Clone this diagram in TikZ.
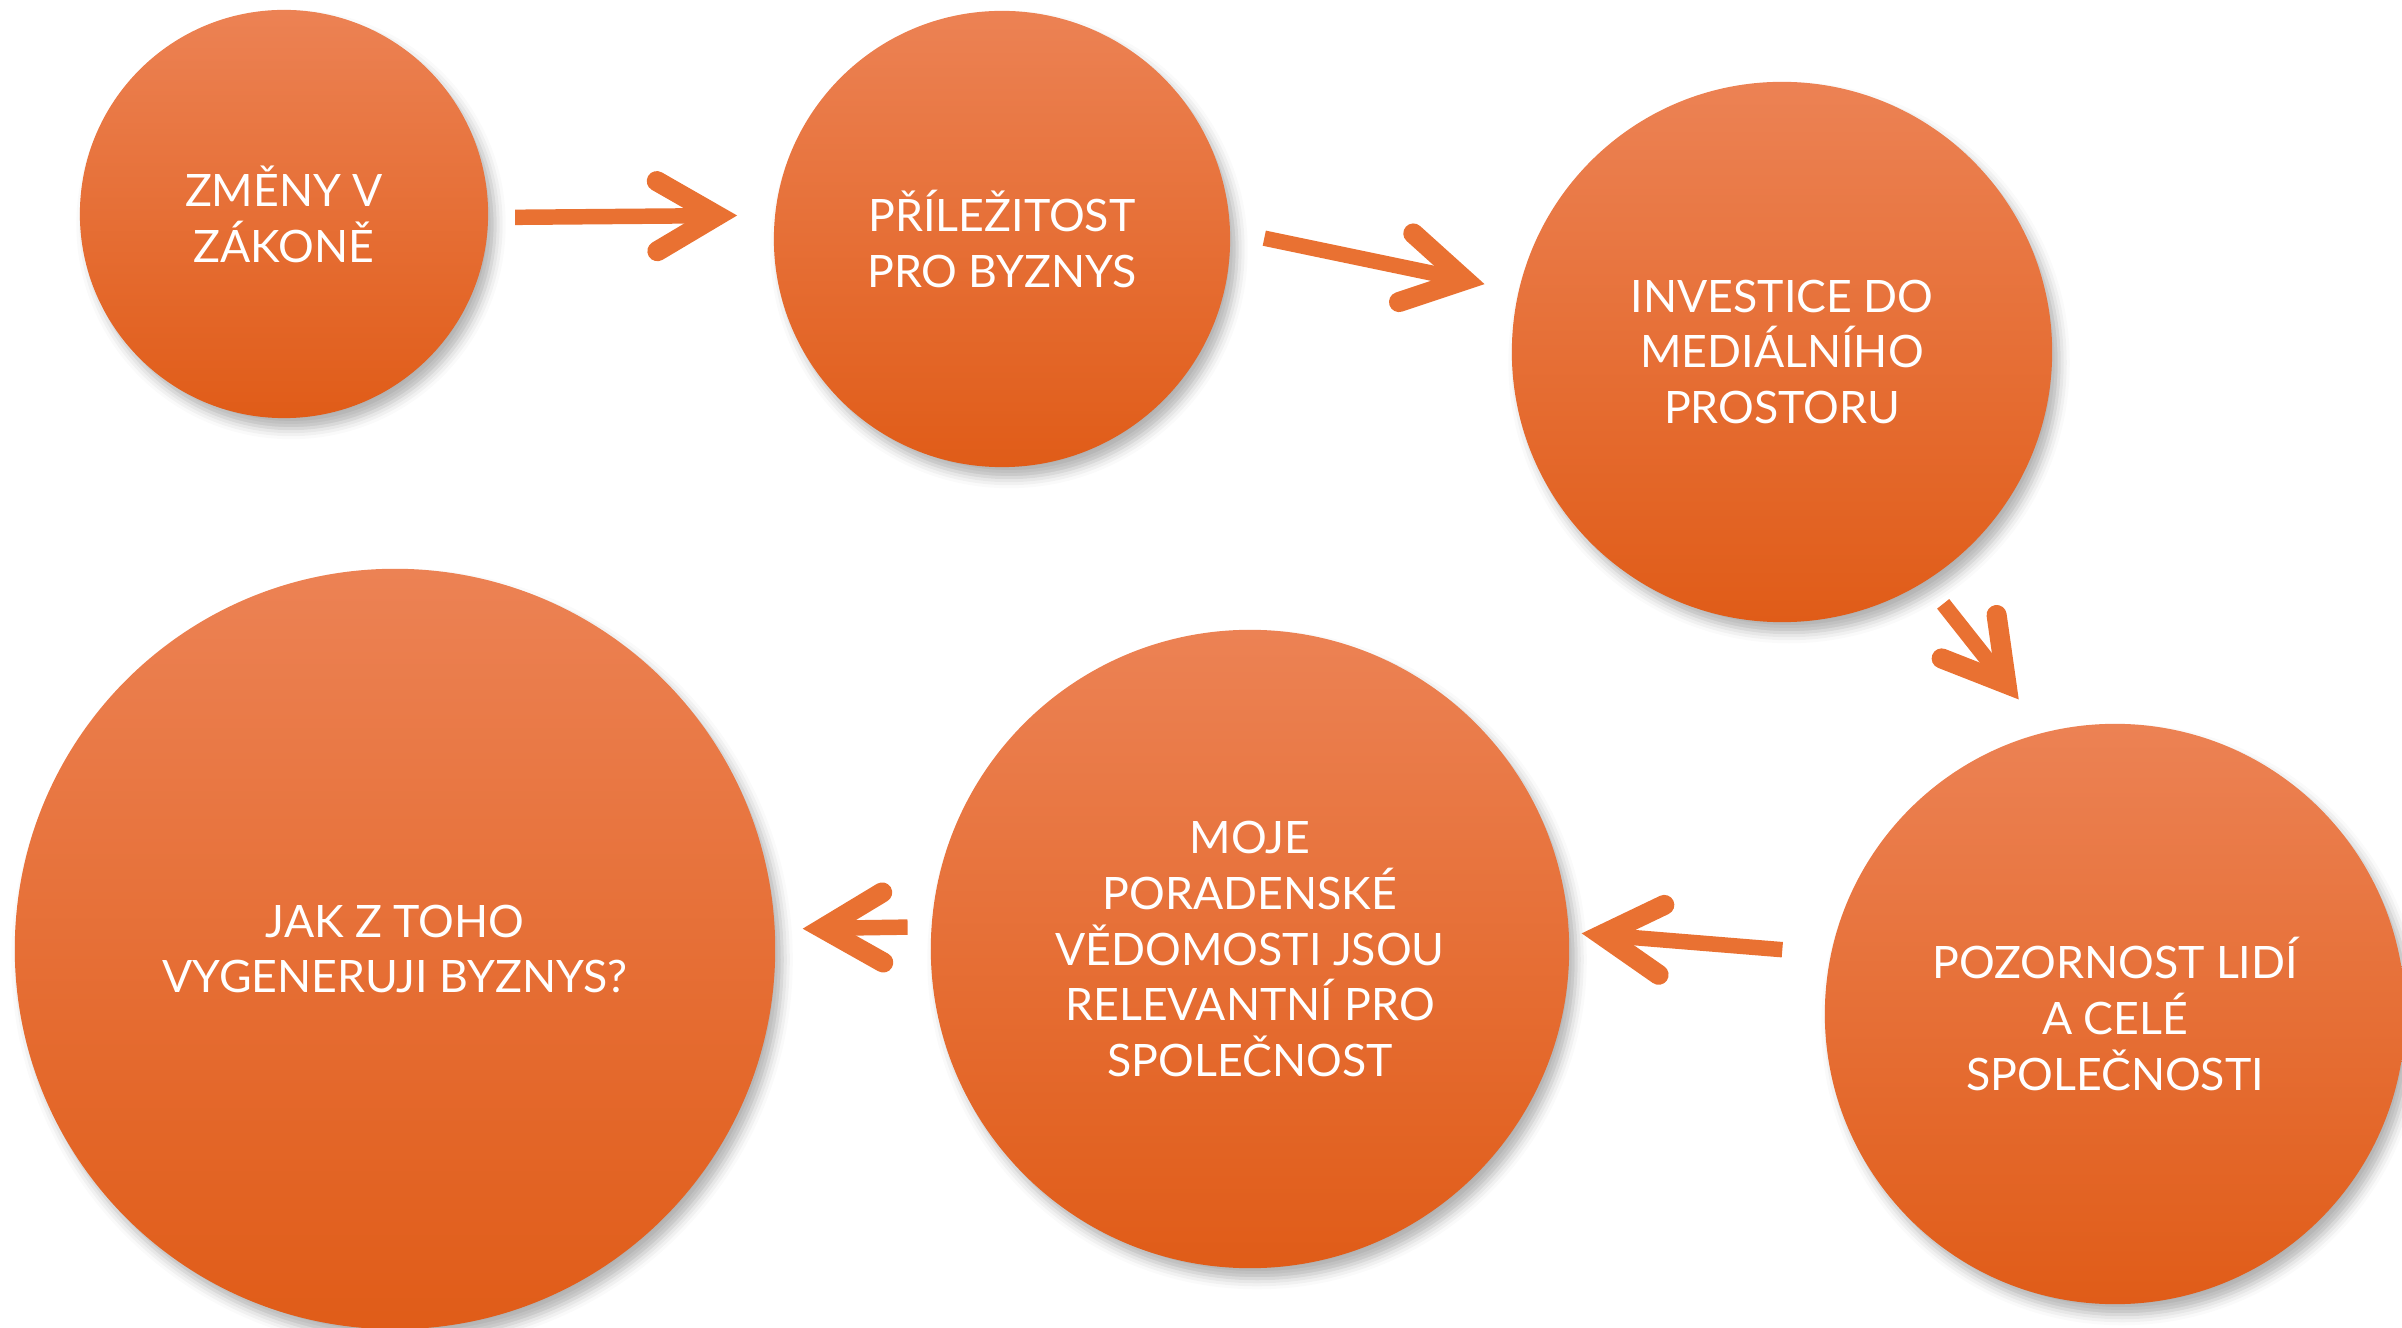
\documentclass[tikz,border=0pt]{standalone}
\usepackage{fontspec}
\setmainfont{Lato}
\usetikzlibrary{arrows.meta,shadows.blur}

\definecolor{bubtop}{HTML}{EC8254}
\definecolor{bubmid}{HTML}{F4702A}
\definecolor{bubbot}{HTML}{E05C18}
\definecolor{arrowor}{HTML}{E97132}

\tikzset{
  bubble/.style={circle,inner sep=0pt,outer sep=0pt,
    top color=bubtop,middle color=bubmid,bottom color=bubbot,
    text=white,align=center,font=\fontsize{12.7}{15.9}\selectfont,
    blur shadow={shadow xshift=2pt,shadow yshift=-3pt,shadow blur radius=3pt,shadow opacity=30}},
  flow/.style 2 args={draw=arrowor,line width=4.4pt,
    shorten <=#1,shorten >=#2,
    -{Straight Barb[length=6mm,width=7mm,line width=0pt 1.3,line cap=round,line join=miter]}}
}

\begin{document}
\begin{tikzpicture}[x=0.01cm,y=-0.01cm]
\clip (0,0) rectangle (2402,1328);

% the six steps
\node[bubble,minimum size=4.08cm] (zmeny) at (284,214) {ZMĚNY V\\ZÁKONĚ};
\node[bubble,minimum size=4.56cm] (prilezitost) at (1002,239) {PŘÍLEŽITOST\\PRO BYZNYS};
\node[bubble,minimum size=5.40cm] (investice) at (1782,352) {INVESTICE DO\\MEDIÁLNÍHO\\PROSTORU};
\node[bubble,minimum size=5.80cm] (pozornost) at (2115,1014) {POZORNOST LIDÍ\\A CELÉ\\SPOLEČNOSTI};
\node[bubble,minimum size=6.38cm] (vedomosti) at (1250,949) {MOJE\\PORADENSKÉ\\VĚDOMOSTI JSOU\\RELEVANTNÍ PRO\\SPOLEČNOST};
\node[bubble,minimum size=7.60cm] (byznys) at (395,949) {JAK Z TOHO\\VYGENERUJI BYZNYS?};

% arrows between them
\draw[flow={0.27cm}{0.38cm}] (zmeny.-1) -- (prilezitost.174);
\draw[flow={0.35cm}{0.35cm}] (prilezitost.2) -- (investice.167);
\draw[flow={0.29cm}{0.42cm}] (investice.-58) -- (pozornost.104);
\draw[flow={0.49cm}{0.13cm}] (pozornost.168) -- (vedomosti.3);
\draw[flow={0.24cm}{0.28cm}] (vedomosti.176) -- (byznys.3);
\end{tikzpicture}
\end{document}
